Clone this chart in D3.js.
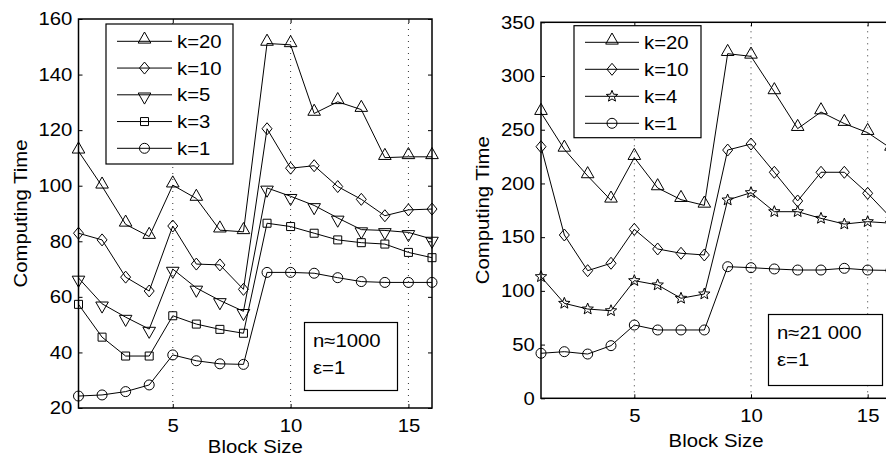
<!DOCTYPE html>
<html><head><meta charset="utf-8">
<script src="https://cdn.jsdelivr.net/npm/d3@7"></script>
<style>
body{margin:0;background:#fff}
text{font-family:"Liberation Sans",Arial,Helvetica,sans-serif;font-size:18px;fill:#000}
</style>
</head><body>
<svg id="c" width="886" height="456"></svg>
<script>
// ---- data ----
const blockSizes = [1,2,3,4,5,6,7,8,9,10,11,12,13,14,15,16];
const xTickValues = [5,10,15];

// left panel (n≈1000)
const leftYTicks = [20,40,60,80,100,120,140,160];
const leftLabels = ["k=20","k=10","k=5","k=3","k=1"];
const leftK20 = [112.4,99.8,86.1,81.7,100.2,95.4,84,83.4,151.2,150.7,126,130.2,127.4,110.1,110.4,110.4];
const leftK10 = [82.9,80.5,67.1,62.1,85.5,71.8,71.5,62.7,120.5,106.3,107.2,99.7,95.1,89.2,91.3,91.6];
const leftK5  = [66.8,57.5,52.7,48.4,70,63.2,58.7,54.8,99.2,96.2,92.9,88.4,84.2,83.9,83.2,80.8];
const leftK3  = [57.3,45.5,38.7,38.7,53.2,50.2,48.3,46.9,86.5,85.3,82.9,80.5,79.5,79.0,76.0,74.1];
const leftK1  = [24.3,24.7,25.9,28.3,39.1,37.0,35.9,35.7,68.8,68.8,68.5,66.9,65.5,65.2,65.2,65.2];
const leftNote = ["n\u22481000","\u03b5=1"];

// right panel (n≈21 000)
const rightYTicks = [0,50,100,150,200,250,300,350];
const rightLabels = ["k=20","k=10","k=4","k=1"];
const rightK20 = [265.9,231.7,207,184.3,224,195.8,184.9,179.6,320.8,318.3,285.2,251,266.5,255.7,247.3,232.6];
const rightK10 = [234.2,152,118.8,125.7,157.3,139,135,133.4,231.1,236.7,210.4,183.7,210.4,210.4,190.8,168];
const rightK4  = [113.2,88.4,83.1,81.5,109.5,105.5,93.1,97.1,184.6,191.4,173.7,173.7,167.5,162.2,164.4,163];
const rightK1  = [41.9,43.4,41.2,49.0,68.2,63.6,63.6,63.6,122.5,121.6,120.4,119.4,119.4,121,119.4,119];
const rightNote = ["n\u224821 000","\u03b5=1"];

const xLabel = "Block Size";
const yLabel = "Computing Time";

// ---- markers ----
function circlePath(r){const p=d3.path();p.arc(0,0,r,0,Math.PI*2);p.closePath();return p.toString();}
function starPath(ro,ri){let s="";for(let i=0;i<10;i++){const r=i%2?ri:ro;const a=-Math.PI/2+i*Math.PI/5;s+=(i?"L":"M")+(r*Math.cos(a)).toFixed(2)+","+(r*Math.sin(a)).toFixed(2);}return s+"Z";}
const MARK = {
  triUp:"M0,-9.3L6.3,1.8L-6.3,1.8Z",
  triDown:"M0,9.3L6.3,-1.8L-6.3,-1.8Z",
  diamond:"M0,-6L5,0L0,6L-5,0Z",
  square:"M-4,-4H4V4H-4Z",
  circle:circlePath(5),
  star:starPath(6,2.6)
};

const SX = 1.13; // horizontal stretch of the font
const svg = d3.select("#c");

function txt(g,x,y,s,anchor){
  return g.append("text").attr("transform",`translate(${x},${y}) scale(${SX},1)`)
    .attr("text-anchor",anchor||"start").text(s);
}

function panel(cfg){
  const g = svg.append("g");
  const x = d3.scaleLinear().domain([1,16]).range([cfg.x0,cfg.x1]);
  const y = d3.scaleLinear().domain(cfg.yDomain).range([cfg.y0,cfg.y1]);

  // dotted grid
  g.selectAll(".grid").data(xTickValues).enter().append("line")
    .attr("x1",d=>x(d)).attr("x2",d=>x(d)).attr("y1",cfg.y0).attr("y2",cfg.y1)
    .attr("stroke","#333").attr("stroke-width",1).attr("stroke-dasharray","1,5");

  // axes
  const ax = g.append("g").attr("transform",`translate(0,${cfg.y0})`)
    .call(d3.axisBottom(x).tickValues(xTickValues).tickSizeInner(-4).tickSizeOuter(0).tickPadding(11).tickFormat(d3.format("d")));
  const ay = g.append("g").attr("transform",`translate(${cfg.x0},0)`)
    .call(d3.axisLeft(y).tickValues(cfg.yTicks).tickSizeInner(-4).tickSizeOuter(0).tickPadding(5.5).tickFormat(d3.format("d")));
  g.append("g").attr("transform",`translate(0,${cfg.y1})`)
    .call(d3.axisTop(x).tickValues(xTickValues).tickSizeInner(-4).tickSizeOuter(0).tickFormat(""));
  g.append("g").attr("transform",`translate(${cfg.x1},0)`)
    .call(d3.axisRight(y).tickValues(cfg.yTicks).tickSizeInner(-4).tickSizeOuter(0).tickFormat(""));
  g.selectAll(".domain").remove();
  g.selectAll(".tick line").attr("stroke","#000").attr("stroke-width",1);
  [ax,ay].forEach(a=>a.selectAll("text").attr("fill","#000").attr("transform",`scale(${SX},1)`));
  g.selectAll("g").attr("font-size",null).attr("font-family",null);

  // box
  g.append("rect").attr("x",cfg.x0).attr("y",cfg.y1).attr("width",cfg.x1-cfg.x0).attr("height",cfg.y0-cfg.y1)
    .attr("fill","none").attr("stroke","#000").attr("stroke-width",1.5);

  // series
  const line = d3.line().x((d,i)=>x(blockSizes[i])).y(d=>y(d));
  cfg.series.forEach(s=>{
    g.append("path").datum(s.values).attr("d",line).attr("fill","none").attr("stroke","#000").attr("stroke-width",1);
    g.selectAll(null).data(s.values).enter().append("path")
      .attr("d",MARK[s.marker]).attr("transform",(d,i)=>`translate(${x(blockSizes[i])},${y(d)})`)
      .attr("fill","none").attr("stroke","#000").attr("stroke-width",1);
  });

  // legend
  const L = cfg.legend;
  g.append("rect").attr("x",L.x).attr("y",L.y).attr("width",L.w).attr("height",L.h)
    .attr("fill","#fff").attr("stroke","#000").attr("stroke-width",1.2);
  cfg.series.forEach((s,i)=>{
    const yy = L.row0 + i*L.dy;
    g.append("line").attr("x1",L.lx0).attr("x2",L.lx1).attr("y1",yy).attr("y2",yy).attr("stroke","#000").attr("stroke-width",1);
    g.append("path").attr("d",MARK[s.marker]).attr("transform",`translate(${(L.lx0+L.lx1)/2},${yy})`)
      .attr("fill","none").attr("stroke","#000").attr("stroke-width",1);
    txt(g,L.tx,yy+6.5,s.label);
  });

  // note box
  const N = cfg.note;
  g.append("rect").attr("x",N.x).attr("y",N.y).attr("width",N.w).attr("height",N.h)
    .attr("fill","#fff").attr("stroke","#000").attr("stroke-width",1.2);
  N.lines.forEach((t,i)=>txt(g,N.tx,N.ty+i*N.dy,t));

  // axis labels
  txt(g,(cfg.x0+cfg.x1)/2,cfg.xlabelY,xLabel,"middle");
  g.append("text").attr("transform",`translate(${cfg.ylabelX},${(cfg.y0+cfg.y1)/2}) rotate(-90) scale(${SX},1)`)
    .attr("text-anchor","middle").text(yLabel);
}

panel({
  x0:78.5,x1:432,y0:408,y1:19,yDomain:[20,160],yTicks:leftYTicks,
  series:[
    {label:leftLabels[0],values:leftK20,marker:"triUp"},
    {label:leftLabels[1],values:leftK10,marker:"diamond"},
    {label:leftLabels[2],values:leftK5,marker:"triDown"},
    {label:leftLabels[3],values:leftK3,marker:"square"},
    {label:leftLabels[4],values:leftK1,marker:"circle"}
  ],
  legend:{x:106,y:24,w:127,h:140,row0:41.3,dy:26.75,lx0:117,lx1:172,tx:177},
  note:{x:304.5,y:322.5,w:93,h:68,tx:313,ty:347,dy:27,lines:leftNote},
  xlabelY:453,ylabelX:26.5
});

panel({
  x0:541,x1:891,y0:398.3,y1:22.3,yDomain:[0,350],yTicks:rightYTicks,
  series:[
    {label:rightLabels[0],values:rightK20,marker:"triUp"},
    {label:rightLabels[1],values:rightK10,marker:"diamond"},
    {label:rightLabels[2],values:rightK4,marker:"star"},
    {label:rightLabels[3],values:rightK1,marker:"circle"}
  ],
  legend:{x:574,y:25.7,w:127,h:112,row0:42.3,dy:27,lx0:585,lx1:639,tx:644},
  note:{x:768.5,y:314.5,w:114,h:71,tx:777,ty:339,dy:27,lines:rightNote},
  xlabelY:446.7,ylabelX:489
});
</script>
</body></html>
